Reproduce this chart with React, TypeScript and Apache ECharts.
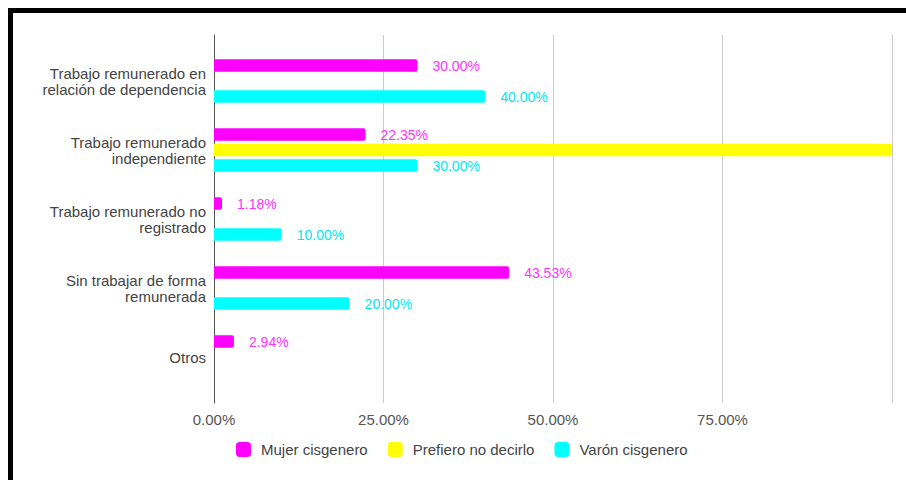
import React, { useEffect, useRef } from "react";
import * as echarts from "echarts";

const categories = [
  "Trabajo remunerado en\nrelación de dependencia",
  "Trabajo remunerado\nindependiente",
  "Trabajo remunerado no\nregistrado",
  "Sin trabajar de forma\nremunerada",
  "Otros",
];
const mujer = [30.0, 22.35, 1.18, 43.53, 2.94];
const prefiero = [null, 100.0, null, null, null];
const varon = [40.0, 30.0, 10.0, 20.0, null];
const xTicks = [0, 25, 50, 75, 100];

const FONT = "'Liberation Sans', Arial, sans-serif";

export default function App() {
  const ref = useRef<HTMLDivElement>(null);
  useEffect(() => {
    if (!ref.current) return;
    const chart = echarts.init(ref.current, undefined, { renderer: "svg" });
    const pct = (v: number) => v.toFixed(2) + "%";
    const mkLabel = (color: string) => ({
      show: true,
      position: "right",
      distance: 15,
      color,
      fontFamily: FONT,
      fontSize: 14,
      formatter: (p: any) => pct(p.value),
    });
    chart.setOption({
      animation: false,
      textStyle: { fontFamily: FONT },
      legend: {
        left: 236,
        top: 442,
        padding: 0,
        itemWidth: 15,
        itemHeight: 15,
        itemGap: 20,
        icon: "roundRect",
        textStyle: { color: "#444", fontSize: 15, fontFamily: FONT, padding: [0, 0, 0, 5] },
        data: ["Mujer cisgenero", "Prefiero no decirlo", "Varón cisgenero"],
      },
      grid: [
        { left: 214, right: 14, top: 35, bottom: 77 },
        { left: 214, right: 14, top: 46.5, bottom: 88.5 },
      ],
      xAxis: [
        {
          gridIndex: 0,
          type: "value",
          min: xTicks[0],
          max: xTicks[xTicks.length - 1],
          interval: xTicks[1] - xTicks[0],
          axisLine: { show: false },
          axisTick: { show: false },
          splitLine: { show: true, lineStyle: { color: "#cccccc", width: 1 } },
          axisLabel: {
            showMaxLabel: false,
            color: "#555",
            fontSize: 15,
            fontFamily: FONT,
            margin: 9,
            formatter: (v: number) => (v === 100 ? "" : pct(v)),
          },
        },
        {
          gridIndex: 1,
          type: "value",
          min: xTicks[0],
          max: xTicks[xTicks.length - 1],
          show: false,
        },
      ],
      yAxis: [
        {
          gridIndex: 0,
          type: "value",
          min: 0,
          max: 1,
          axisLine: { show: true, lineStyle: { color: "#555", width: 1 } },
          axisTick: { show: false },
          axisLabel: { show: false },
          splitLine: { show: false },
        },
        {
          gridIndex: 1,
          type: "category",
          inverse: true,
          data: categories,
          axisLine: { show: false },
          axisTick: { show: false },
          axisLabel: {
            color: "#444",
            fontSize: 15,
            fontFamily: FONT,
            margin: 8,
            lineHeight: 16,
            align: "right",
          },
        },
      ],
      series: [
        {
          name: "Mujer cisgenero",
          type: "bar",
          xAxisIndex: 1,
          yAxisIndex: 1,
          data: mujer,
          barWidth: 12.5,
          barGap: "24%",
          itemStyle: { color: "#ff00ff", borderRadius: [0, 2, 2, 0] },
          label: mkLabel("#ff33ff"),
        },
        {
          name: "Prefiero no decirlo",
          type: "bar",
          xAxisIndex: 1,
          yAxisIndex: 1,
          data: prefiero,
          barWidth: 12.5,
          barGap: "24%",
          itemStyle: { color: "#ffff00", borderRadius: [0, 2, 2, 0] },
          label: { show: false },
        },
        {
          name: "Varón cisgenero",
          type: "bar",
          xAxisIndex: 1,
          yAxisIndex: 1,
          data: varon,
          barWidth: 12.5,
          barGap: "24%",
          itemStyle: { color: "#00ffff", borderRadius: [0, 2, 2, 0] },
          label: mkLabel("#00e8f0"),
        },
      ],
    });
    return () => chart.dispose();
  }, []);

  return (
    <div
      style={{
        position: "fixed",
        left: 0,
        top: 0,
        width: 906,
        height: 480,
        overflow: "hidden",
        background: "#fff",
      }}
    >
      <div
        style={{
          position: "absolute",
          left: 8,
          top: 8,
          width: 1000,
          height: 1000,
          border: "5px solid #000",
          boxSizing: "border-box",
        }}
      />
      <div
        ref={ref}
        style={{ position: "absolute", left: 0, top: 0, width: 906, height: 480 }}
      />
    </div>
  );
}
